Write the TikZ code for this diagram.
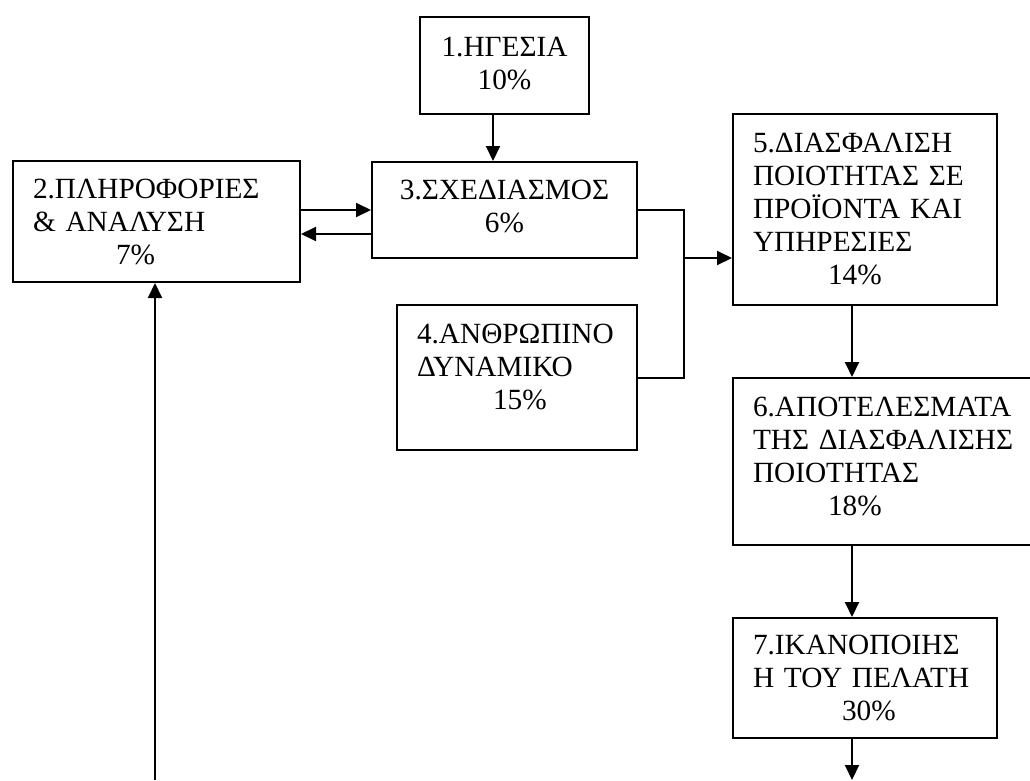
\documentclass[tikz,border=0pt]{standalone}
\usepackage{fontspec}
\setmainfont{Liberation Serif}
\usetikzlibrary{arrows.meta}

\begin{document}
\begin{tikzpicture}[->,>={Triangle[length=15pt,width=14pt]},x=1pt,y=-1pt,line width=2pt,
    box/.style={draw,rectangle,anchor=north west,inner xsep=20pt,inner ysep=0pt,align=left,
      font=\fontsize{29.3}{33}\selectfont}]

    \useasboundingbox (0,0) rectangle (1030,780);

    \node[box,align=center,text width=129pt,minimum height=97pt] (hgesia) at (419,16) {1.ΗΓΕΣΙΑ\\10\%\\[-29pt]\mbox{}};
    \node[box,text width=247pt,minimum height=121pt] (plir) at (12,160) {2.ΠΛΗΡΟΦΟΡΙΕΣ\\\& ΑΝΑΛΥΣΗ\\\hspace*{83pt}7\%};
    \node[box,align=center,text width=225pt,minimum height=96pt] (sxed) at (371,161) {3.ΣΧΕΔΙΑΣΜΟΣ\\6\%\\[-25pt]\mbox{}};
    \node[box,text width=200pt,minimum height=145pt] (anthr) at (396,304) {4.ΑΝΘΡΩΠΙΝΟ\\ΔΥΝΑΜΙΚΟ\\\hspace*{76pt}15\%\\[-11pt]\mbox{}};
    \node[box,text width=224pt,minimum height=191pt] (diasf) at (732,113) {5.ΔΙΑΣΦΑΛΙΣΗ\\ΠΟΙΟΤΗΤΑΣ ΣΕ\\ΠΡΟΪΟΝΤΑ ΚΑΙ\\ΥΠΗΡΕΣΙΕΣ\\\hspace*{75pt}14\%};
    \node[box,text width=290pt,minimum height=167pt] (apot) at (732,377) {6.ΑΠΟΤΕΛΕΣΜΑΤΑ\\ΤΗΣ ΔΙΑΣΦΑΛΙΣΗΣ\\ΠΟΙΟΤΗΤΑΣ\\\hspace*{75pt}18\%\\[-23pt]\mbox{}};
    \node[box,text width=224pt,minimum height=120pt] (ikan) at (732,617) {7.ΙΚΑΝΟΠΟΙΗΣ\\Η ΤΟΥ ΠΕΛΑΤΗ\\\hspace*{89pt}30\%};

    \coordinate (jn) at (684,258);
    \coordinate (katw) at (852,780);
    \coordinate (piso) at (155,780);

    \draw ([xshift=-11.5pt]hgesia.south) -- ([xshift=-11.5pt]sxed.north);
    \draw (sxed.west -| plir.east) -- (sxed.west);
    \draw ([yshift=-24pt]sxed.west) -- ([yshift=-24pt]sxed.west -| plir.east);
    \draw[-] (sxed.east) -| (jn);
    \draw[-] (anthr.east) -| (jn);
    \draw (jn) -- (jn -| diasf.west);
    \draw (katw |- diasf.south) -- (katw |- apot.north);
    \draw (katw |- apot.south) -- (katw |- ikan.north);
    \draw (katw |- ikan.south) -- (katw);
    \draw (piso) -- (piso |- plir.south);
\end{tikzpicture}
\end{document}
